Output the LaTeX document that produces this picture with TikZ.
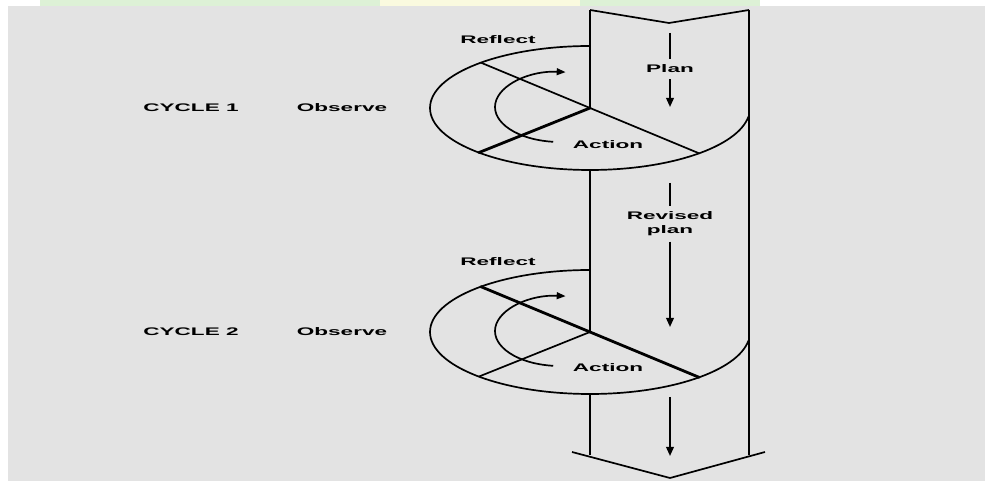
\documentclass[tikz,border=0pt]{standalone}
\usepackage{fontspec}
\usepackage{graphicx}
\setmainfont{Liberation Sans}
\usetikzlibrary{calc,arrows.meta}
\definecolor{bg}{HTML}{E3E3E3}
\definecolor{palegreen}{HTML}{DDF1D6}
\definecolor{paleyellow}{HTML}{FAFADF}
\newcommand\sx[1]{\scalebox{2.05}[1]{\bfseries #1}}
\begin{document}
\begin{tikzpicture}[x=0.5pt,y=0.5pt,
  line/.style={line width=0.85pt, line join=round},
  thickline/.style={line width=1.4pt, line cap=round},
  lbl/.style={font=\fontsize{5.5}{7}\selectfont, inner sep=2pt, align=center},
  flow/.style={line width=0.85pt, -{Triangle[length=4.5pt,width=3.8pt]}},
  cyc/.style={line width=0.85pt, -{Triangle[length=4.5pt,width=3.4pt]}},
]
% background and margins
\useasboundingbox (0,0) rectangle (985,481);
\fill[bg] (0,0) rectangle (985,481);
\fill[white] (0,475) rectangle (985,481);
\fill[white] (0,0) rectangle (8,475);
\fill[palegreen] (40,475) rectangle (380,481);
\fill[paleyellow] (380,475) rectangle (580,481);
\fill[palegreen] (580,475) rectangle (760,481);

% key points
\coordinate (tl) at (590,471);
\coordinate (tm) at (669,458);
\coordinate (tr) at (749,471);
\coordinate (c1) at (590,373);
\coordinate (c2) at (590,149);
\coordinate (t1) at (590,435);
\coordinate (t2) at (590,211);
\coordinate (b1) at (590,311);
\coordinate (b2) at (590,87);
\coordinate (i1) at (560,374);
\coordinate (i2) at (560,150);
\coordinate (lb) at (590,26);
\coordinate (rb) at (749,26);
\coordinate (bl) at (572,29);
\coordinate (bm) at (670,3);
\coordinate (br) at (765,29);

% column outline
\draw[line] (tl) -- (tm) -- (tr);
\draw[line] (tr) -- (rb);
\draw[line] (tl) -- (c1);
\draw[line] (b1) -- (c2);
\draw[line] (b2) -- (lb);
\draw[line] (bl) -- (bm) -- (br);

% cycle 1
\draw[line] (t1) arc[start angle=90, end angle=352, x radius=160, y radius=62];
\draw[line] ($(c1)+(133:160 and 62)$) -- ($(c1)+(313:160 and 62)$);
\draw[thickline] (c1) -- ($(c1)+(226:160 and 62)$);
\draw[cyc] ($(i1)+(264:65 and 35)$) arc[start angle=264, end angle=85, x radius=65, y radius=35];

% cycle 2
\draw[line] (t2) arc[start angle=90, end angle=352, x radius=160, y radius=62];
\draw[thickline] ($(c2)+(133:160 and 62)$) -- ($(c2)+(313:160 and 62)$);
\draw[line] (c2) -- ($(c2)+(226:160 and 62)$);
\draw[cyc] ($(i2)+(264:65 and 35)$) arc[start angle=264, end angle=85, x radius=65, y radius=35];

% labels
\node[lbl] (refl1) at (498,441) {\sx{Reflect}};
\node[lbl] (act1) at (608,336) {\sx{Action}};
\node[lbl] (cy1) at (191,373) {\sx{CYCLE 1}};
\node[lbl] (obs1) at (342,373) {\sx{Observe}};
\node[lbl] (refl2) at (498,219) {\sx{Reflect}};
\node[lbl] (act2) at (608,113) {\sx{Action}};
\node[lbl] (cy2) at (191,149) {\sx{CYCLE 2}};
\node[lbl] (obs2) at (342,149) {\sx{Observe}};

% flow arrows in column
\node[lbl, inner sep=3pt] (plan) at (670,412) {\sx{Plan}};
\coordinate (pa) at (670,448);
\coordinate (pb) at (670,374);
\draw[line] (pa) -- (plan.north);
\draw[flow] (plan.south) -- (pb);

\node[lbl, inner sep=2.5pt] (rplan) at (670,257) {\sx{Revised}\\\sx{plan}};
\coordinate (ra) at (670,298);
\coordinate (rb2) at (670,154);
\draw[line] (ra) -- (rplan.north);
\draw[flow] (rplan.south) -- (rb2);

\coordinate (fa) at (670,84);
\coordinate (fb) at (670,25);
\draw[flow] (fa) -- (fb);
\end{tikzpicture}
\end{document}
